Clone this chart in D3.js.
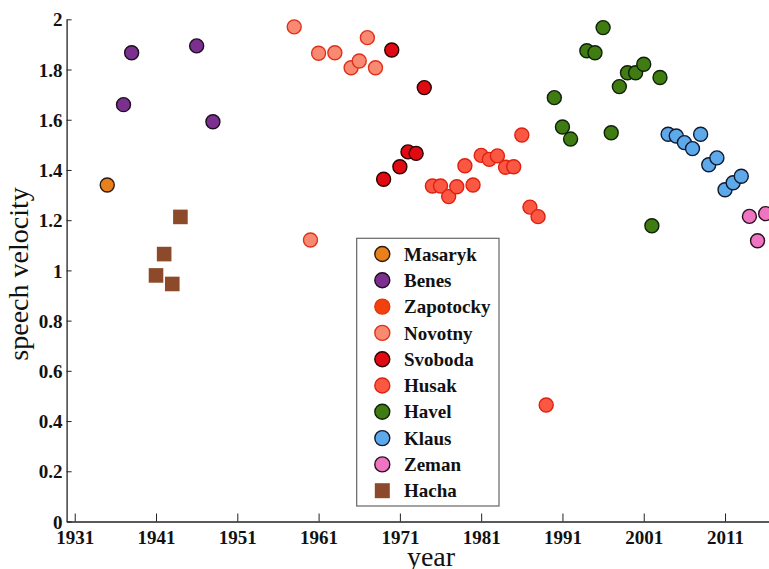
<!DOCTYPE html>
<html lang="en">
<head>
    <meta charset="UTF-8">
    <title>Speech velocity of presidents</title>
    <script src="https://d3js.org/d3.v7.min.js"></script>
    <style>
        body { margin: 0; background: #fff; }
        text { font-family: "Liberation Serif", serif; fill: #111; }
        .tick text { font-weight: bold; font-size: 19px; }
        .legend text { font-weight: bold; font-size: 19px; }
        .label { font-size: 28px; }
    </style>
</head>
<body>
<svg width="769" height="569"></svg>
<script type="text/javascript">
    // data: [year, speech velocity]
    const names = ["Masaryk", "Benes", "Zapotocky", "Novotny", "Svoboda", "Husak", "Havel", "Klaus", "Zeman", "Hacha"];
    const masaryk = [[1935, 1.34]];
    const benes = [[1937, 1.66], [1938, 1.867], [1946, 1.894], [1948, 1.592]];
    const zapotocky = [];
    const novotny = [[1958, 1.97], [1960, 1.121], [1961, 1.865], [1963, 1.867], [1965, 1.807], [1966, 1.834], [1967, 1.927], [1968, 1.807]];
    const svoboda = [[1969, 1.363], [1970, 1.878], [1971, 1.413], [1972, 1.472], [1973, 1.466], [1974, 1.728]];
    const husak = [[1975, 1.336], [1976, 1.336], [1977, 1.294], [1978, 1.333], [1979, 1.417], [1980, 1.34], [1981, 1.458],
        [1982, 1.442], [1983, 1.456], [1984, 1.411], [1985, 1.413], [1986, 1.539], [1987, 1.252], [1988, 1.214], [1989, 0.464]];
    const havel = [[1990, 1.688], [1991, 1.571], [1992, 1.523], [1994, 1.875], [1995, 1.867], [1996, 1.967], [1997, 1.548],
        [1998, 1.732], [1999, 1.787], [2000, 1.787], [2001, 1.821], [2002, 1.178], [2003, 1.768]];
    const klaus = [[2004, 1.542], [2005, 1.535], [2006, 1.509], [2007, 1.485], [2008, 1.542], [2009, 1.421], [2010, 1.448],
        [2011, 1.321], [2012, 1.349], [2013, 1.375]];
    const zeman = [[2014, 1.215], [2015, 1.118], [2016, 1.226]];
    const hacha = [[1941, 0.98], [1942, 1.065], [1943, 0.946], [1944, 1.213]];

    const xTicks = [1931, 1941, 1951, 1961, 1971, 1981, 1991, 2001, 2011];
    const yTicks = [0, 0.2, 0.4, 0.6, 0.8, 1, 1.2, 1.4, 1.6, 1.8, 2];

    // styles
    const fills = ["#e8811c", "#7b2f8f", "#f2400f", "#f98a72", "#e00a12", "#fb5844", "#3f7c12", "#5ea9ea", "#ef74c1", "#8c4a2b"];
    const strokes = ["#2a1a10", "#1d0c22", "#e3360b", "#e0301c", "#2a0000", "#e0200f", "#10200a", "#0f1a30", "#2a0f20", "none"];

    const series = [masaryk, benes, zapotocky, novotny, svoboda, husak, havel, klaus, zeman, hacha];

    let svg = d3.select("svg");

    let x = d3.scaleLinear().domain([1930, 2017]).range([66.6, 773.8]);
    let y = d3.scaleLinear().domain([0, 2]).range([521.5, 19.3]);

    // axes
    let xAxis = svg.append("g")
        .attr("transform", "translate(0," + y(0) + ")")
        .call(d3.axisBottom(x).tickValues(xTicks).tickFormat(d3.format("d")).tickSizeInner(-8).tickSizeOuter(0).tickPadding(6));
    xAxis.selectAll(".tick text").attr("dy", "0.85em");

    let yAxis = svg.append("g")
        .attr("transform", "translate(" + x(1930) + ",0)")
        .call(d3.axisLeft(y).tickValues(yTicks).tickFormat(d => +d.toFixed(1)).tickSizeInner(-5).tickSizeOuter(0).tickPadding(4));
    yAxis.selectAll(".tick text").attr("dy", "0.35em");

    svg.selectAll(".domain").attr("stroke", "#222").attr("stroke-width", 1.3);
    svg.selectAll(".tick line").attr("stroke", "#222");

    svg.append("text").attr("class", "label")
        .attr("x", 431).attr("y", 566)
        .attr("text-anchor", "middle")
        .text("year");

    svg.append("text").attr("class", "label")
        .attr("transform", "translate(28,274) rotate(-90)")
        .attr("text-anchor", "middle")
        .text("speech velocity");

    // points
    series.forEach((data, i) => {
        let g = svg.append("g");
        if (names[i] === "Hacha") {
            g.selectAll("rect")
                .data(data)
                .join("rect")
                .attr("x", d => x(d[0]) - 7.3)
                .attr("y", d => y(d[1]) - 7.3)
                .attr("width", 14.6)
                .attr("height", 14.6)
                .style("fill", fills[i]);
        } else {
            g.selectAll("circle")
                .data(data)
                .join("circle")
                .attr("cx", d => x(d[0]))
                .attr("cy", d => y(d[1]))
                .attr("r", 7)
                .style("fill", fills[i])
                .style("stroke", strokes[i])
                .style("stroke-width", 1.4);
        }
    });

    // legend
    let legend = svg.append("g").attr("class", "legend");
    legend.append("rect")
        .attr("x", 356.7).attr("y", 238.3)
        .attr("width", 142.3).attr("height", 267.7)
        .style("fill", "#fff")
        .style("stroke", "#666")
        .style("stroke-width", 1.2);

    let item = legend.selectAll("g.item")
        .data(names)
        .join("g")
        .attr("class", "item")
        .attr("transform", (d, i) => "translate(382.3," + (254 + i * 26.3) + ")");

    item.each(function (d, i) {
        let el = d3.select(this);
        if (d === "Hacha") {
            el.append("rect").attr("x", -7.5).attr("y", -7.5).attr("width", 15).attr("height", 15)
                .style("fill", fills[i]);
        } else {
            el.append("circle").attr("r", 7.5)
                .style("fill", fills[i])
                .style("stroke", strokes[i])
                .style("stroke-width", 1.4);
        }
    });

    item.append("text")
        .attr("x", 21.7)
        .attr("dy", "0.35em")
        .text(d => d);
</script>
</body>
</html>
